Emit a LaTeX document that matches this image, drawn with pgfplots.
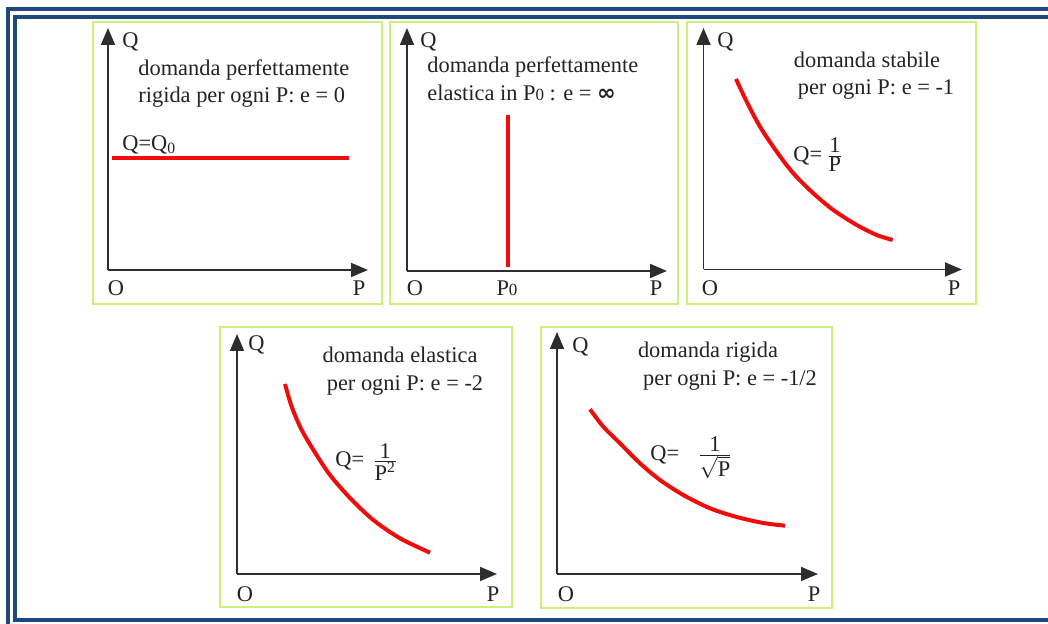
\documentclass[border=0pt]{standalone}
\usepackage{fontspec}
\setmainfont{Liberation Serif}
\newfontfamily\symfont{DejaVu Sans}
\usepackage{pgfplots}
\pgfplotsset{compat=1.18}
\usetikzlibrary{arrows.meta}

\definecolor{frameblue}{RGB}{31,73,125}
\definecolor{panelgreen}{RGB}{205,240,120}
\definecolor{curvered}{RGB}{240,12,12}
\definecolor{axisgray}{RGB}{45,45,45}
\definecolor{txtgray}{RGB}{35,35,35}

% one small demand diagram: no ticks, arrowed axes, data in pixel offsets from O
\pgfplotsset{
  panel/.style={
    scale only axis, anchor=south west,
    axis lines=left, enlargelimits=false,
    xmin=0, ymin=0, xtick=\empty, ytick=\empty, clip=false,
    axis line style={draw=axisgray, line width=0.9pt},
    x axis line style={-{Triangle[length=8.5pt,width=7pt]}},
    y axis line style={-{Triangle[length=8.5pt,width=7pt]}},
  },
  demand/.style={curvered, line width=2pt, smooth},
}

\begin{document}
\begin{tikzpicture}[font=\fontsize{11.2}{13.4}\selectfont]
\useasboundingbox (0,0) rectangle (524pt,312pt);

% frame and panel boxes, in pixel units (y down)
\begin{scope}[x=0.5pt, y=-0.5pt, yshift=312pt]
  \draw[frameblue, line width=2pt] (8,624) -- (8,8.7) -- (1048,8.7);
  \draw[frameblue, line width=2pt] (1048,620) -- (15,620) -- (15,17) -- (1048,17);
  \draw[panelgreen, line width=1pt] (93,22) rectangle (382,304);
  \draw[panelgreen, line width=1pt] (390,22) rectangle (678,304);
  \draw[panelgreen, line width=1pt] (687,22) rectangle (976,304);
  \draw[panelgreen, line width=1pt] (220,327) rectangle (512,607);
  \draw[panelgreen, line width=1pt] (541,327) rectangle (832,608);
\end{scope}

% e = 0 : Q = Q0
\begin{axis}[panel, at={(54pt,177pt)}, width=130pt, height=121pt, xmax=260, ymax=242]
  \addplot[curvered, line width=2.2pt] coordinates {(4,112) (241,112)};
\end{axis}

% e = infinito in P0
\begin{axis}[panel, at={(203.5pt,176.5pt)}, width=130pt, height=121.5pt, xmax=260, ymax=243]
  \addplot[curvered, line width=2.4pt] coordinates {(101,4) (101,156)};
\end{axis}

% e = -1
\begin{axis}[panel, at={(351.75pt,177.25pt)}, width=129.25pt, height=120.75pt, xmax=258.5, ymax=241.5]
  \addplot[demand] coordinates {
    (32.5,190.5) (43.2,167.8) (56.5,142.8) (73.2,117.8) (89.8,96.2)
    (109.8,76.2) (129.8,59.5) (153.2,44.5) (173.2,34.5) (189.2,29.5)};
\end{axis}

% e = -2
\begin{axis}[panel, at={(118.5pt,25pt)}, width=130pt, height=120pt, xmax=260, ymax=240]
  \addplot[demand] coordinates {
    (48,190) (54.7,167.3) (64.7,144) (78,121.5) (93,99)
    (113,76) (136.3,54) (163,35.7) (193,21.3)};
\end{axis}

% e = -1/2
\begin{axis}[panel, at={(278.5pt,25pt)}, width=130.5pt, height=121pt, xmax=261, ymax=242]
  \addplot[demand] coordinates {
    (33,164.7) (46.3,147.3) (63,130.7) (83,110.7) (103,94)
    (126.3,79) (153,65.7) (179.7,57) (206.3,51) (228,48.3)};
\end{axis}

% labels
\begin{scope}[x=0.5pt, y=-0.5pt, yshift=312pt,
    every node/.style={text=txtgray, inner sep=0pt}]
  % panel 1
  \node[anchor=west] at (122,42) {\strut Q};
  \node[anchor=west] at (138,70) {\strut domanda perfettamente};
  \node[anchor=west] at (138,97) {\strut rigida per ogni P: e = 0};
  \node[anchor=west] at (122,145) {\strut Q=Q\textsubscript{0}};
  \node at (116,290) {\strut O};
  \node at (359,290) {\strut P};
  % panel 2
  \node[anchor=west] at (420,42) {\strut Q};
  \node[anchor=west] at (427,67) {\strut domanda perfettamente};
  \node[anchor=west] at (427,95) {\strut elastica in P{\fontsize{8.5}{9}\selectfont 0} : e = {\symfont\bfseries ∞}};
  \node at (415,290) {\strut O};
  \node at (507,290) {\strut P{\fontsize{8.5}{9}\selectfont 0}};
  \node at (656,290) {\strut P};
  % panel 3
  \node[anchor=west] at (717,42) {\strut Q};
  \node at (867,62) {\strut domanda stabile};
  \node at (876,89) {\strut per ogni P: e = -1};
  \node[anchor=west] at (793,155) {Q=\hspace{2pt}$\frac{\mbox{1}}{\mbox{P}}$};
  \node at (710,290) {\strut O};
  \node at (954,290) {\strut P};
  % panel 4
  \node[anchor=west] at (248,345) {\strut Q};
  \node at (400,357) {\strut domanda elastica};
  \node at (405,385) {\strut per ogni P: e = -2};
  \node[anchor=west] at (335,462) {Q=\hspace{4pt}$\frac{\mbox{1}}{\mbox{P\textsuperscript{2}}}$};
  \node at (245,596) {\strut O};
  \node at (493,596) {\strut P};
  % panel 5
  \node[anchor=west] at (572,347) {\strut Q};
  \node at (708,352) {\strut domanda rigida};
  \node at (730,380) {\strut per ogni P: e = -1/2};
  \node[anchor=west] at (650,458) {Q=\hspace{9pt}$\frac{\mbox{1}}{\sqrt{\mbox{P}}}$};
  \node at (566,596) {\strut O};
  \node at (814,596) {\strut P};
\end{scope}
\end{tikzpicture}
\end{document}
